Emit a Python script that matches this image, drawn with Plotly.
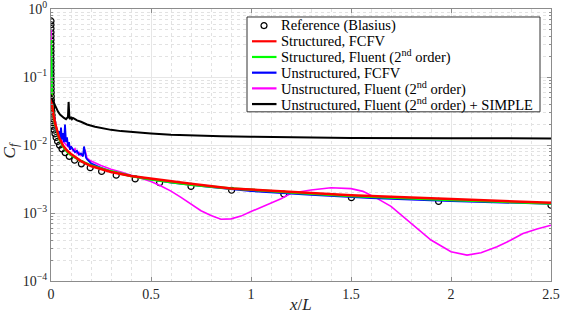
import plotly.graph_objects as go

# ---------------- data ----------------
ref_x = [2.5, 1.938, 1.502, 1.164, 0.903, 0.700, 0.543, 0.421, 0.326, 0.253, 0.196, 0.152,
         0.118, 0.0912, 0.0707, 0.0548, 0.0425, 0.0330, 0.0255, 0.0198, 0.0153, 0.0119,
         0.00923, 0.00715, 0.00554, 0.00430, 0.00333, 0.00258, 0.00200, 0.00155, 0.00120,
         0.000932, 0.000723, 0.000560, 0.000434, 0.000337, 0.000261, 0.000202, 0.000157,
         0.000122, 9.43e-5, 7.31e-5, 5.66e-5, 4.39e-5, 3.40e-5, 2.64e-5, 2.05e-5, 1.59e-5,
         1.23e-5, 9.5e-6]
ref_cf = [0.00130, 0.00148, 0.00168, 0.00190, 0.00216, 0.00246, 0.00279, 0.00317, 0.00360,
          0.00409, 0.00464, 0.00528, 0.00599, 0.00681, 0.00773, 0.00878, 0.00997, 0.0113,
          0.0129, 0.0146, 0.0166, 0.0189, 0.0214, 0.0243, 0.0276, 0.0314, 0.0356, 0.0405,
          0.0460, 0.0522, 0.0593, 0.0673, 0.0765, 0.0869, 0.0987, 0.112, 0.127, 0.145, 0.164,
          0.187, 0.212, 0.241, 0.273, 0.310, 0.353, 0.401, 0.455, 0.517, 0.587, 0.667]

s_fcfv_x = [0.0, 0.003, 0.006, 0.01, 0.02, 0.03, 0.04, 0.06, 0.08, 0.1, 0.15, 0.2, 0.3, 0.4,
            0.5, 0.7, 0.9, 1.2, 1.5, 2.0, 2.5]
s_fcfv_cf = [0.055, 0.045, 0.038, 0.030, 0.021, 0.016, 0.013, 0.0098, 0.0083, 0.0074, 0.0058,
             0.0049, 0.0040, 0.0035, 0.0032, 0.0027, 0.0023, 0.00205, 0.00183, 0.00160, 0.00142]

s_flu_x = [0.0, 0.001, 0.002, 0.004, 0.007, 0.01, 0.015, 0.02, 0.03, 0.04, 0.06, 0.08, 0.1,
           0.15, 0.2, 0.3, 0.4, 0.5, 0.7, 0.9, 1.2, 1.5, 2.0, 2.5]
s_flu_cf = [0.35, 0.10, 0.07, 0.05, 0.037, 0.030, 0.024, 0.020, 0.015, 0.0125, 0.0095, 0.0080,
            0.0071, 0.0058, 0.0050, 0.0041, 0.0035, 0.0031, 0.0026, 0.0023, 0.0020, 0.00178,
            0.00155, 0.00138]

u_fcfv_x = [0.0, 0.003, 0.006, 0.01, 0.015, 0.02, 0.025, 0.03, 0.035, 0.04, 0.045, 0.05, 0.055,
            0.06, 0.065, 0.07, 0.075, 0.08, 0.085, 0.09, 0.095, 0.1, 0.11, 0.12, 0.13, 0.14,
            0.15, 0.16, 0.165, 0.17, 0.175, 0.18, 0.19, 0.2, 0.25, 0.3, 0.4, 0.5, 0.6, 0.8,
            1.0, 1.3, 1.6, 2.0, 2.5]
u_fcfv_cf = [0.30, 0.06, 0.04, 0.030, 0.024, 0.019, 0.016, 0.017, 0.013, 0.016, 0.012, 0.018,
             0.012, 0.015, 0.011, 0.020, 0.011, 0.013, 0.0095, 0.011, 0.0085, 0.0095, 0.0085,
             0.0078, 0.0082, 0.0072, 0.0075, 0.0068, 0.0095, 0.0072, 0.0065, 0.0062, 0.0058,
             0.0054, 0.0046, 0.0041, 0.0035, 0.0031, 0.0028, 0.0024, 0.0021, 0.00185, 0.00165,
             0.00150, 0.00136]

u_flu_x = [0.0, 0.002, 0.005, 0.01, 0.02, 0.03, 0.05, 0.07, 0.09, 0.1, 0.11, 0.12, 0.13, 0.14,
           0.15, 0.16, 0.17, 0.18, 0.2, 0.25, 0.3, 0.35, 0.4, 0.45, 0.5, 0.55, 0.6, 0.65, 0.7,
           0.75, 0.8, 0.85, 0.9, 0.95, 1.0, 1.05, 1.1, 1.15, 1.2, 1.3, 1.4, 1.5, 1.56, 1.63,
           1.7, 1.76, 1.83, 1.9, 2.0, 2.08, 2.15, 2.23, 2.3, 2.36, 2.43, 2.5]
u_flu_cf = [0.5, 0.07, 0.045, 0.032, 0.022, 0.017, 0.012, 0.0105, 0.0092, 0.0095, 0.0082,
            0.0088, 0.0075, 0.0078, 0.0070, 0.0074, 0.0085, 0.0064, 0.0058, 0.0050, 0.0044,
            0.0040, 0.0036, 0.0033, 0.0029, 0.0025, 0.0021, 0.0017, 0.00135, 0.00108, 0.00092,
            0.00081, 0.00082, 0.00090, 0.00105, 0.00122, 0.00142, 0.00162, 0.00195, 0.00218,
            0.00235, 0.00228, 0.00208, 0.00164, 0.00125, 0.00088, 0.00060, 0.00040, 0.00027,
            0.00024, 0.00026, 0.00032, 0.00040, 0.00050, 0.00058, 0.00066]

u_simple_x = [0.0, 0.005, 0.01, 0.017, 0.025, 0.035, 0.045, 0.055, 0.065, 0.075, 0.085, 0.088,
              0.09, 0.092, 0.095, 0.1, 0.105, 0.11, 0.12, 0.13, 0.15, 0.18, 0.22, 0.26, 0.3,
              0.35, 0.42, 0.5, 0.6, 0.7, 0.85, 1.0, 1.25, 1.5, 2.0, 2.5]
u_simple_cf = [0.055, 0.048, 0.044, 0.040, 0.035, 0.031, 0.028, 0.026, 0.025, 0.024, 0.026,
               0.043, 0.028, 0.025, 0.024, 0.026, 0.024, 0.025, 0.024, 0.023, 0.022, 0.020,
               0.0185, 0.0175, 0.0167, 0.0160, 0.0153, 0.0148, 0.0142, 0.0138, 0.0134, 0.0132,
               0.0129, 0.0127, 0.0126, 0.0125]

x_ticks = [0, 0.5, 1, 1.5, 2, 2.5]
x_ticklabels = ["0", "0.5", "1", "1.5", "2", "2.5"]
y_ticks = [1e-4, 1e-3, 1e-2, 1e-1, 1]
y_ticklabels = ["10<sup>\u22124</sup>", "10<sup>\u22123</sup>", "10<sup>\u22122</sup>",
                "10<sup>\u22121</sup>", "10<sup>0</sup>"]

names = ["Reference (Blasius)",
         "Structured, FCFV",
         "Structured, Fluent (2<sup>nd</sup> order)",
         "Unstructured, FCFV",
         "Unstructured, Fluent (2<sup>nd</sup> order)",
         "Unstructured, Fluent (2<sup>nd</sup> order) + SIMPLE"]
colors = ["black", "#ff0000", "#00ff00", "#0000ff", "#ff00ff", "black"]

SERIF = "Liberation Serif"

fig = go.Figure()
fig.add_trace(go.Scatter(x=ref_x, y=ref_cf, mode="markers", name=names[0], showlegend=False,
                         marker=dict(symbol="circle-open", size=6, color="black",
                                     line=dict(width=1.2, color="black"))))
fig.add_trace(go.Scatter(x=u_flu_x, y=u_flu_cf, mode="lines", name=names[4], showlegend=False,
                         line=dict(color=colors[4], width=1.6)))
fig.add_trace(go.Scatter(x=u_fcfv_x, y=u_fcfv_cf, mode="lines", name=names[3], showlegend=False,
                         line=dict(color=colors[3], width=1.8)))
fig.add_trace(go.Scatter(x=s_flu_x, y=s_flu_cf, mode="lines", name=names[2], showlegend=False,
                         line=dict(color=colors[2], width=2.5)))
fig.add_trace(go.Scatter(x=s_fcfv_x, y=s_fcfv_cf, mode="lines", name=names[1], showlegend=False,
                         line=dict(color=colors[1], width=2.5)))
fig.add_trace(go.Scatter(x=u_simple_x, y=u_simple_cf, mode="lines", name=names[5],
                         showlegend=False, line=dict(color=colors[5], width=2)))

axis_common = dict(showline=True, linecolor="#8c8c8c", linewidth=1, mirror="ticks",
                   ticks="inside", ticklen=4, tickcolor="#8c8c8c", automargin=False,
                   showgrid=True, gridcolor="#e6e6e6", gridwidth=1, zeroline=False,
                   ticklabeloverflow="allow",
                   tickfont=dict(family=SERIF, size=14, color="#262626"))

fig.update_xaxes(range=[0, 2.5], tickmode="array", tickvals=x_ticks, ticktext=x_ticklabels,
                 minor=dict(dtick=0.1, showgrid=True, gridcolor="#e2e2e2", griddash="dot",
                            ticks=""),
                 **axis_common)
fig.update_yaxes(type="log", range=[-4, 0], tickmode="array", tickvals=y_ticks,
                 ticktext=y_ticklabels,
                 minor=dict(tickmode="linear", dtick="D1", showgrid=True, gridcolor="#e2e2e2",
                            griddash="dot", ticks="inside", ticklen=2, tickcolor="#8c8c8c"),
                 **axis_common)

fig.add_annotation(text="<i>x</i>/<i>L</i>", xref="paper", yref="paper", x=0.498, y=-0.088,
                   xanchor="center", yanchor="middle", showarrow=False,
                   font=dict(family=SERIF, size=17, color="#262626"))
fig.add_annotation(text="<i>C<sub>f</sub></i>", xref="paper", yref="paper", x=-0.080, y=0.48,
                   xanchor="center", yanchor="middle", showarrow=False, textangle=-90,
                   font=dict(family=SERIF, size=17, color="#262626"))

# ---- legend box (drawn in paper coordinates, MATLAB-like compact rows) ----
leg_x0, leg_x1, leg_y0, leg_y1 = 0.392, 0.978, 0.622, 0.9706
row_top, row_step = 0.939, 0.0577
fig.add_shape(type="rect", xref="paper", yref="paper", x0=leg_x0, x1=leg_x1,
              y0=leg_y0, y1=leg_y1, line=dict(color="#333333", width=1), fillcolor="white",
              layer="above")
for i, (nm, col) in enumerate(zip(names, colors)):
    yy = row_top - i * row_step
    if i == 0:
        fig.add_shape(type="circle", xref="paper", yref="paper",
                      x0=0.426 - 0.006, x1=0.426 + 0.006, y0=yy - 0.011, y1=yy + 0.011,
                      line=dict(color="black", width=1.2), layer="above")
    else:
        fig.add_shape(type="line", xref="paper", yref="paper", x0=0.402, x1=0.451,
                      y0=yy, y1=yy, line=dict(color=col, width=2.2), layer="above")
    fig.add_annotation(text=nm, xref="paper", yref="paper", x=0.456, y=yy,
                       xanchor="left", yanchor="middle", showarrow=False,
                       font=dict(family=SERIF, size=14.5, color="black"))

fig.update_layout(
    width=561, height=323,
    margin=dict(l=51, r=10, t=9, b=42, autoexpand=False),
    plot_bgcolor="white", paper_bgcolor="white",
    font=dict(family=SERIF, color="black"),
    showlegend=False,
)

fig.write_html("out.html", config={"displayModeBar": False},
               post_script="document.body.style.margin='0px';")
